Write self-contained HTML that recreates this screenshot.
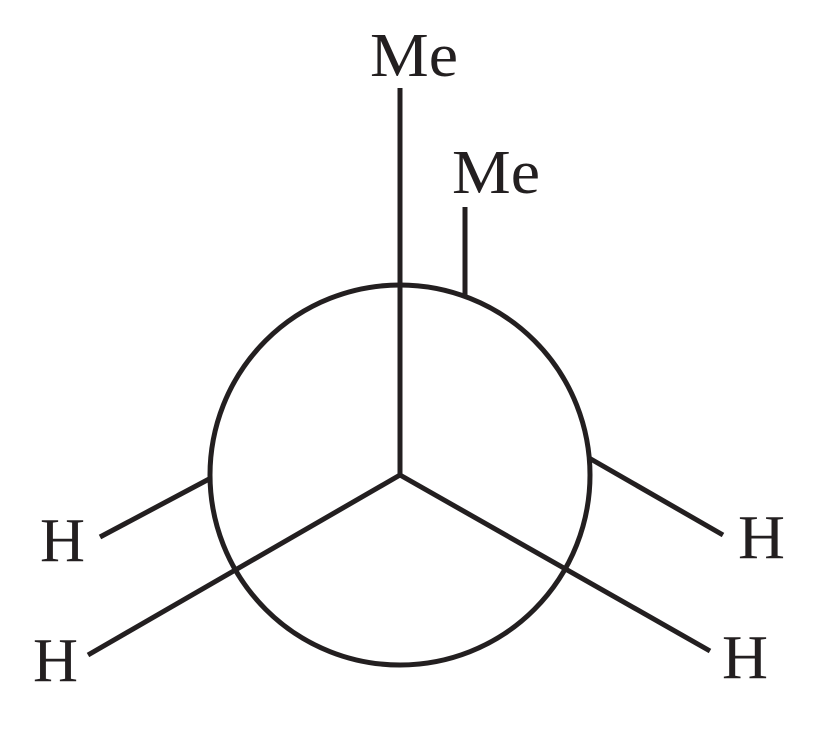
<!DOCTYPE html>
<html><head><style>
html,body{margin:0;padding:0;background:#fff;}
svg{display:block;}
text{font-family:"Liberation Serif",serif;font-size:62px;fill:#231f20;}
</style></head><body>
<svg width="818" height="729" viewBox="0 0 818 729">
<g stroke="#231f20" stroke-width="5" fill="none" stroke-linecap="butt">
<circle cx="400" cy="475" r="190"/>
<line x1="400" y1="475" x2="400" y2="88"/>
<line x1="400" y1="475" x2="88" y2="655"/>
<line x1="400" y1="475" x2="710" y2="651"/>
<line x1="465" y1="295" x2="465" y2="207"/>
<line x1="211" y1="478" x2="100" y2="537"/>
<line x1="589" y1="458" x2="723" y2="535"/>
</g>
<text x="370" y="76" textLength="88" lengthAdjust="spacingAndGlyphs">Me</text>
<text x="452" y="193" textLength="88" lengthAdjust="spacingAndGlyphs">Me</text>
<text x="40" y="561" textLength="45" lengthAdjust="spacingAndGlyphs">H</text>
<text x="33" y="681" textLength="45" lengthAdjust="spacingAndGlyphs">H</text>
<text x="738" y="558" textLength="47" lengthAdjust="spacingAndGlyphs">H</text>
<text x="722" y="678" textLength="46" lengthAdjust="spacingAndGlyphs">H</text>
</svg>
</body></html>
